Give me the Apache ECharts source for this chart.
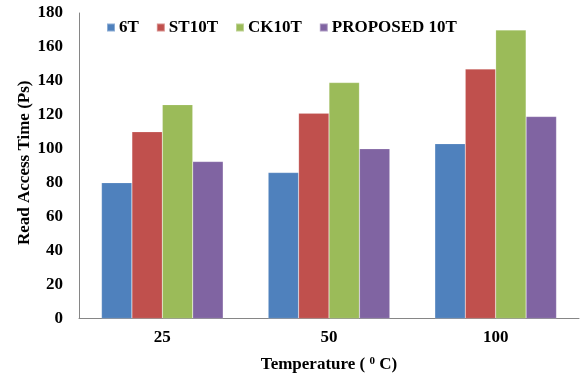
<!DOCTYPE html>
<html><head><meta charset="utf-8">
<script src="https://cdn.jsdelivr.net/npm/echarts@6/dist/echarts.min.js"></script>
<style>html,body{margin:0;padding:0;background:#fff}#c{width:580px;height:378px}</style>
</head><body><div id="c"></div>
<script>
const categories = ['25', '50', '100'];
const seriesNames = ['6T', 'ST10T', 'CK10T', 'PROPOSED 10T'];
const v6T = [80, 86, 103];
const vST10T = [110, 121, 147];
const vCK10T = [126, 139, 170];
const vProposed = [92.5, 100, 119];
const yTicks = [0, 20, 40, 60, 80, 100, 120, 140, 160, 180];
const colors = ['#4F81BD', '#C0504D', '#9BBB59', '#8064A2'];
const values = [v6T, vST10T, vCK10T, vProposed];
const font = '"Liberation Serif", "Times New Roman", serif';
const chart = echarts.init(document.getElementById('c'));
chart.setOption({
  animation: false,
  textStyle: { fontFamily: font },
  legend: {
    left: 101, top: 14, itemWidth: 8, itemHeight: 8, itemGap: 17,
    icon: 'rect',
    textStyle: { fontFamily: font, fontWeight: 'bold', fontSize: 17, color: '#000', padding: [0, 0, 0, -1] },
    data: seriesNames
  },
  grid: { left: 79, right: 1, top: 13, bottom: 58, containLabel: false },
  xAxis: {
    type: 'category', data: categories,
    axisLine: { lineStyle: { color: '#868686', width: 1 } },
    axisTick: { show: false },
    axisLabel: { fontFamily: font, fontWeight: 'bold', fontSize: 17, color: '#000', margin: 11 },
    name: 'Temperature ( {s|0} C)', nameLocation: 'middle', nameGap: 37,
    nameTextStyle: { fontFamily: font, fontWeight: 'bold', fontSize: 17, color: '#000',
      rich: { s: { fontFamily: font, fontWeight: 'bold', fontSize: 11, color: '#000', verticalAlign: 'top', padding: [0, 0, 7, 0] } } }
  },
  yAxis: {
    type: 'value', min: 0, max: 180, interval: 20,
    axisLine: { show: true, lineStyle: { color: '#868686', width: 1 } },
    axisTick: { show: false },
    splitLine: { show: false },
    axisLabel: { fontFamily: font, fontWeight: 'bold', fontSize: 17, color: '#000', margin: 16,
      formatter: function (v) { return yTicks.indexOf(v) >= 0 ? String(v) : ''; } },
    name: 'Read Access Time (Ps)', nameLocation: 'middle', nameGap: 46, nameMoveOverlap: false,
    nameTextStyle: { fontFamily: font, fontWeight: 'bold', fontSize: 17, color: '#000', padding: [0, 0, 0, 6] }
  },
  series: seriesNames.map((n, i) => ({
    name: n, type: 'bar', data: values[i],
    barGap: '0%', barCategoryGap: '27%',
    itemStyle: { color: colors[i], borderColor: 'rgba(255,255,255,0.35)', borderWidth: 0.5 }
  }))
});
</script></body></html>
